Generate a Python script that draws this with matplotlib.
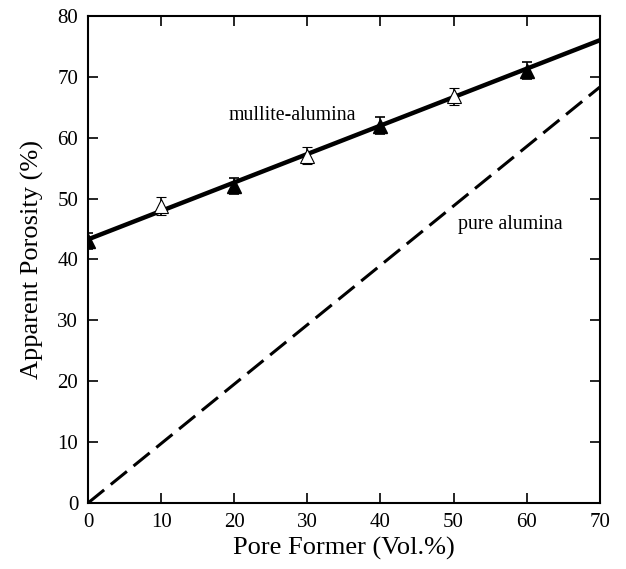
import numpy as np
import matplotlib.pyplot as plt

plt.rcParams['font.family'] = ['Liberation Serif', 'DejaVu Serif']

# measured points, mullite-alumina
x_filled = [0, 20, 40, 60]
y_filled = [43.0, 52.0, 62.0, 71.0]
err_filled = [1.3, 1.3, 1.4, 1.4]
x_open = [10, 30, 50]
y_open = [48.8, 57.0, 66.8]
err_open = [1.5, 1.4, 1.4]

# fitted lines
fit_x = [0, 70]
fit_mullite = [43.3, 76.0]
fit_pure = [0.0, 68.3]

fig = plt.figure(figsize=(6.26, 5.69), dpi=100)
ax = fig.add_axes([0.1406, 0.116, 0.8174, 0.856])

ax.plot(fit_x, fit_mullite, color='k', lw=3.2, solid_capstyle='butt', zorder=2)
ax.plot(fit_x, fit_pure, color='k', lw=2.2, dashes=(6.8, 2.8), zorder=2)

ax.errorbar(x_filled, y_filled, yerr=err_filled, fmt='^', color='k', mfc='k',
            ms=10, capsize=3.5, elinewidth=1.2, capthick=1.2, zorder=3)
ax.errorbar(x_open, y_open, yerr=err_open, fmt='^', color='k', mfc='white',
            mew=0.8, ms=10, capsize=3.5, elinewidth=1.2, capthick=1.2, zorder=3)

ax.text(28, 63.6, 'mullite-alumina', fontsize=14.3, ha='center', va='center')
ax.text(57.8, 45.8, 'pure alumina', fontsize=14.3, ha='center', va='center')

ax.set_xlim(0, 70)
ax.set_ylim(0, 80)
ax.set_xticks(np.arange(0, 71, 10))
ax.set_yticks(np.arange(0, 81, 10))
ax.tick_params(direction='in', top=True, right=True, length=7, width=1.2,
               labelsize=15, pad=7)
for s in ax.spines.values():
    s.set_linewidth(1.5)

ax.set_xlabel('Pore Former (Vol.%)', fontsize=19, labelpad=4)
ax.set_ylabel('Apparent Porosity (%)', fontsize=19, labelpad=10)

fig.savefig('out.png', dpi=100)
